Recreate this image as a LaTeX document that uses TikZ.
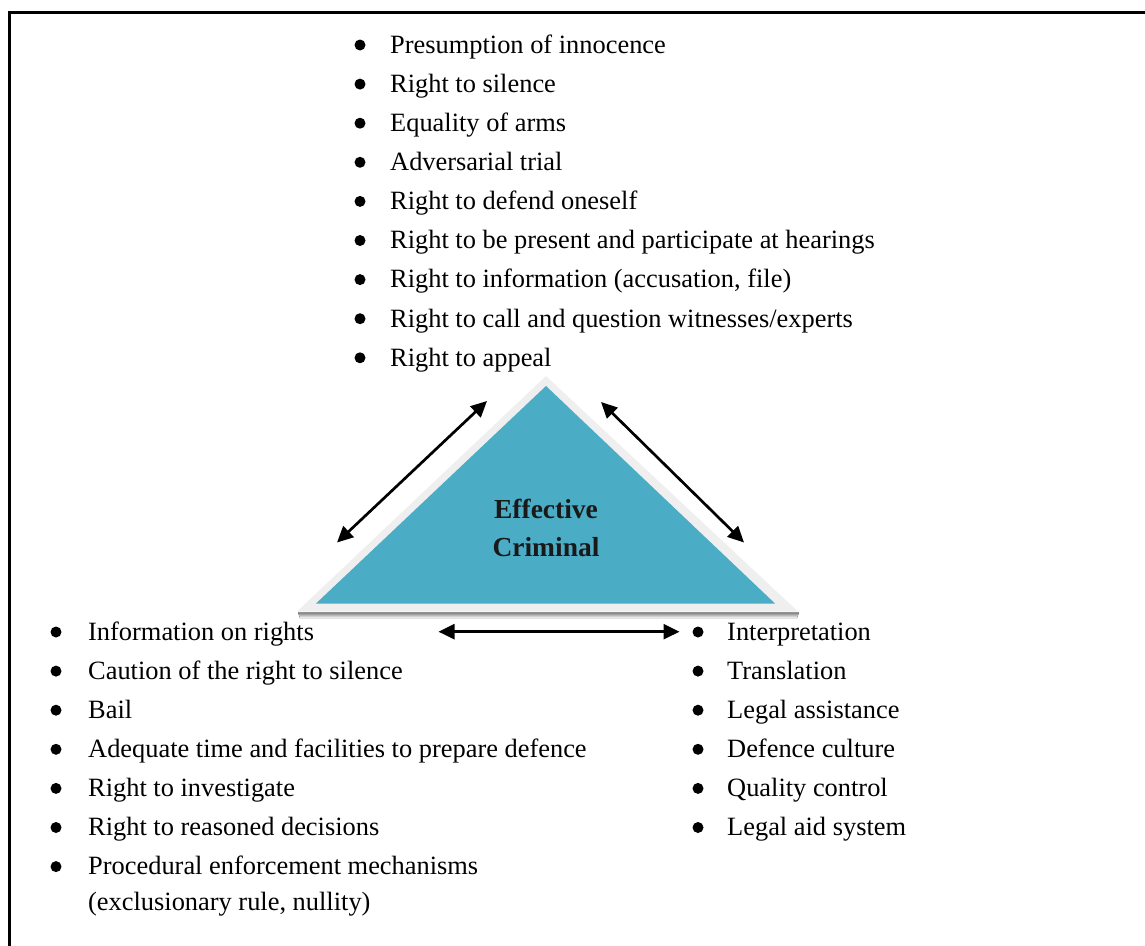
\documentclass[tikz,border=0pt]{standalone}
\usepackage{fontspec}
\setmainfont{Liberation Serif}
\usetikzlibrary{arrows.meta}

\definecolor{aqua}{HTML}{4BACC6}
\definecolor{rim}{HTML}{EFEFEF}
\definecolor{shade}{HTML}{93B3BD}

\tikzset{
  item/.style={anchor=base west, inner sep=0pt, font=\fontsize{26.4}{34}\selectfont},
  head/.style={anchor=base, inner sep=0pt, font=\bfseries\fontsize{27.5}{38}\selectfont, text=black!90},
  link/.style={line width=2.7pt, {Triangle[length=16pt,width=15pt]}-{Triangle[length=16pt,width=15pt]}}
}

\begin{document}
\begin{tikzpicture}[x=1pt,y=-1pt]
\useasboundingbox (0,0) rectangle (1145,945);
\clip (0,0) rectangle (1145,945);

% frame
\draw[line width=3.5pt] (9.5,12.5) rectangle (1175,975);

% triangle with rim and base shadow
\fill[shade] (298,612.5) -- (799,612.5) -- (797,618) -- (300,618) -- cycle;
\fill[rim] (546,376) -- (798,611.5) -- (297,611.5) -- cycle;
\fill[aqua] (546,386) -- (775,603.5) -- (316,603.5) -- cycle;
\node[head] (eff) at (546,518.3) {Effective};
\node[head] (crim) at (546,556.7) {Criminal};

% top list
\foreach \t [count=\i from 0] in {Presumption of innocence, Right to silence,
    Equality of arms, Adversarial trial, Right to defend oneself,
    Right to be present and participate at hearings,
    {Right to information (accusation, file)},
    Right to call and question witnesses/experts, Right to appeal}{
  \node[item] (top\i) at (390,53.3+39.1*\i) {\t};
  \fill ([shift={(-30,-8.3)}]top\i.base west) circle (5.5pt);
}

% bottom left list
\foreach \t [count=\i from 0] in {Information on rights,
    Caution of the right to silence, Bail,
    Adequate time and facilities to prepare defence,
    Right to investigate, Right to reasoned decisions,
    Procedural enforcement mechanisms}{
  \node[item] (left\i) at (88,640+39.1*\i) {\t};
  \fill ([shift={(-32,-8)}]left\i.base west) circle (5.5pt);
}
\node[item] (left6b) at (88,910) {(exclusionary rule, nullity)};

% bottom right list
\foreach \t [count=\i from 0] in {Interpretation, Translation, Legal assistance,
    Defence culture, Quality control, Legal aid system}{
  \node[item] (right\i) at (727,640+39.1*\i) {\t};
  \fill ([shift={(-29,-8)}]right\i.base west) circle (5.5pt);
}

% arrows between the corners
\coordinate (l1) at (337,542.5);
\coordinate (l2) at (487,401);
\coordinate (r1) at (601,402);
\coordinate (r2) at (744,542.5);
\coordinate (b1) at (438.5,631.7);
\coordinate (b2) at (679.5,631.7);
\draw[link] (l1) -- (l2);
\draw[link] (r1) -- (r2);
\draw[link] (b1) -- (b2);
\end{tikzpicture}
\end{document}
